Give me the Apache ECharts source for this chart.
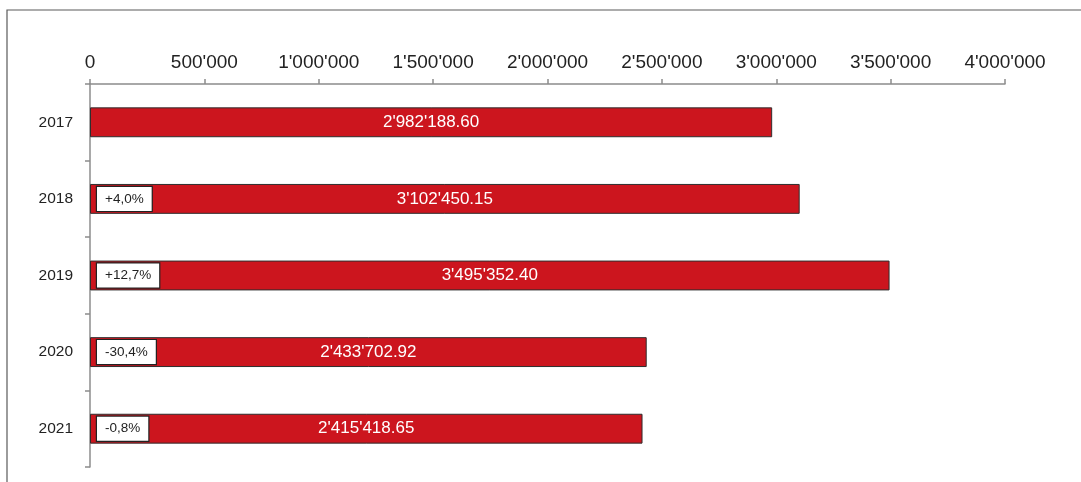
<!DOCTYPE html>
<html>
<head>
<meta charset="utf-8">
<script src="https://cdn.jsdelivr.net/npm/echarts@6/dist/echarts.min.js"></script>
<style>
html,body{margin:0;padding:0;background:#fff;}
#chart{width:1081px;height:482px;}
</style>
</head>
<body>
<div id="chart"></div>
<script>
const categories = ['2017', '2018', '2019', '2020', '2021'];
const values = [2982188.60, 3102450.15, 3495352.40, 2433702.92, 2415418.65];
const changes = ['', '+4,0%', '+12,7%', '-30,4%', '-0,8%'];
const xTicks = { min: 0, max: 4000000, interval: 500000 };

function groupThousands(intStr) {
  return intStr.replace(/\B(?=(\d{3})+(?!\d))/g, "'");
}
function fmtValue(v) {
  const parts = v.toFixed(2).split('.');
  return groupThousands(parts[0]) + '.' + parts[1];
}

const font = "'Liberation Sans', Arial, Helvetica, sans-serif";
const chart = echarts.init(document.getElementById('chart'), null, { renderer: 'canvas' });
chart.setOption({
  animation: false,
  backgroundColor: '#ffffff',
  graphic: [{
    type: 'rect',
    shape: { x: 7, y: 10, width: 1100, height: 500 },
    style: { fill: 'none', stroke: '#5a5a5a', lineWidth: 1.2 },
    silent: true
  }],
  grid: { left: 90, right: 76, top: 84, bottom: 15 },
  xAxis: {
    type: 'value',
    position: 'top',
    min: xTicks.min, max: xTicks.max, interval: xTicks.interval,
    axisLine: { show: true, lineStyle: { color: '#8c8c8c', width: 1.5 } },
    axisTick: { show: true, length: 5, lineStyle: { color: '#8c8c8c', width: 1.5 } },
    splitLine: { show: false },
    axisLabel: {
      color: '#222', fontSize: 19, fontFamily: font, margin: 12,
      formatter: v => groupThousands(String(Math.round(v)))
    }
  },
  yAxis: {
    type: 'category',
    data: categories,
    inverse: true,
    axisLine: { show: true, lineStyle: { color: '#8c8c8c', width: 1.5 } },
    axisTick: { show: true, length: 5, alignWithLabel: false, lineStyle: { color: '#8c8c8c', width: 1.5 } },
    axisLabel: { color: '#222', fontSize: 15.5, fontFamily: font, margin: 17 }
  },
  series: [{
    type: 'bar',
    data: values,
    barWidth: '39%',
    itemStyle: { color: '#cc151e', borderColor: '#2e2e2e', borderWidth: 1 },
    label: {
      show: true, position: 'inside', color: '#ffffff',
      fontSize: 17, fontFamily: font,
      formatter: p => fmtValue(p.value)
    },
    z: 2
  }, {
    type: 'bar',
    data: values.map((v, i) => ({ value: v, label: { show: changes[i] !== '' } })),
    barWidth: '39%',
    barGap: '-100%',
    itemStyle: { color: 'rgba(0,0,0,0)' },
    label: {
      show: true, position: 'insideLeft', distance: 7,
      formatter: p => changes[p.dataIndex],
      color: '#222', fontSize: 13.5, fontFamily: font,
      backgroundColor: '#ffffff', borderColor: '#222', borderWidth: 1.2,
      padding: [5, 8, 5, 8]
    },
    z: 3
  }]
});
</script>
</body>
</html>
